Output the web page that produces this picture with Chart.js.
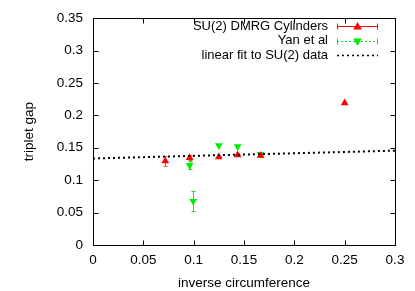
<!DOCTYPE html>
<html>
<head>
<meta charset="utf-8">
<script src="https://cdn.jsdelivr.net/npm/chart.js@4"></script>
<style>
  html, body { margin: 0; padding: 0; background: #fff; }
  #wrap { width: 415px; height: 291px; }
</style>
</head>
<body>
<div id="wrap"><canvas id="gapChart" width="415" height="291"></canvas></div>
<script>
// SU(2) DMRG cylinders
const suX = [0.0718, 0.096, 0.125, 0.1437, 0.1665, 0.25];
const suY = [0.1295, 0.1347, 0.1357, 0.139, 0.138, 0.219];
const suErr = [0.008, 0.004, 0.002, 0.002, 0.002, 0.0];

// Yan et al
const yanX = [0.096, 0.0995, 0.125, 0.1437, 0.1665];
const yanY = [0.123, 0.0676, 0.1536, 0.152, 0.140];
const yanErr = [0.006, 0.015, 0.0, 0.0, 0.003];

// linear fit to SU(2) data
const fitX = [0, 0.3];
const fitY = [0.1335, 0.1455];

const xTicks = [0, 0.05, 0.1, 0.15, 0.2, 0.25, 0.3];
const yTicks = [0, 0.05, 0.1, 0.15, 0.2, 0.25, 0.3, 0.35];

const legendItems = [
  { label: 'SU(2) DMRG Cylinders', color: '#ff0000', dash: [], caps: true, marker: 'up' },
  { label: 'Yan et al', color: '#00ee00', dash: [2, 2], caps: true, marker: 'down' },
  { label: 'linear fit to SU(2) data', color: '#000000', dash: [2, 3], caps: false, marker: null }
];

const font = "'Liberation Sans', Arial, sans-serif";

function points(xs, ys) {
  return xs.map((x, i) => ({ x: x, y: ys[i] }));
}

function drawTriangle(ctx, x, y, r, down) {
  const s = down ? -1 : 1;
  ctx.beginPath();
  ctx.moveTo(x, y - s * r);
  ctx.lineTo(x + r * 0.95, y + s * r * 0.65);
  ctx.lineTo(x - r * 0.95, y + s * r * 0.65);
  ctx.closePath();
  ctx.fill();
}

// error bars, box frame with inward ticks, and the legend
const frame = {
  id: 'frame',
  beforeDatasetsDraw(chart) {
    const ctx = chart.ctx;
    const xs = chart.scales.x, ys = chart.scales.y;
    const bars = [[suX, suY, suErr, '#ff5050'], [yanX, yanY, yanErr, '#22dd22']];
    ctx.save();
    ctx.lineWidth = 1;
    for (const [bx, by, be, col] of bars) {
      ctx.strokeStyle = col;
      bx.forEach((x, i) => {
        if (!be[i]) return;
        const px = Math.round(xs.getPixelForValue(x)) + 0.5;
        const y1 = Math.round(ys.getPixelForValue(by[i] + be[i])) + 0.5;
        const y2 = Math.round(ys.getPixelForValue(by[i] - be[i])) + 0.5;
        ctx.beginPath();
        ctx.moveTo(px, y1); ctx.lineTo(px, y2);
        ctx.moveTo(px - 2, y1); ctx.lineTo(px + 2, y1);
        ctx.moveTo(px - 2, y2); ctx.lineTo(px + 2, y2);
        ctx.stroke();
      });
    }
    ctx.restore();
  },
  afterDraw(chart) {
    const ctx = chart.ctx;
    const a = chart.chartArea;
    const xs = chart.scales.x, ys = chart.scales.y;
    ctx.save();
    ctx.strokeStyle = '#000';
    ctx.lineWidth = 1;
    const l = Math.round(a.left) + 0.5, r = Math.round(a.right) + 0.5;
    const t = Math.round(a.top) + 0.5, b = Math.round(a.bottom) + 0.5;
    ctx.strokeRect(l, t, r - l, b - t);
    ctx.beginPath();
    for (const v of xTicks) {
      const px = Math.round(xs.getPixelForValue(v)) + 0.5;
      ctx.moveTo(px, b); ctx.lineTo(px, b - 5);
      ctx.moveTo(px, t); ctx.lineTo(px, t + 5);
    }
    for (const v of yTicks) {
      const py = Math.round(ys.getPixelForValue(v)) + 0.5;
      ctx.moveTo(l, py); ctx.lineTo(l + 5, py);
      ctx.moveTo(r, py); ctx.lineTo(r - 5, py);
    }
    ctx.stroke();

    // legend
    ctx.font = '13px ' + font;
    ctx.textAlign = 'right';
    ctx.textBaseline = 'middle';
    legendItems.forEach((it, i) => {
      const y = 26 + i * 14.5;
      ctx.fillStyle = '#000';
      ctx.fillText(it.label, 328, y);
      const yy = Math.round(y) + 0.5;
      ctx.strokeStyle = it.color;
      ctx.lineWidth = it.marker ? 1 : 1.5;
      ctx.setLineDash(it.dash);
      ctx.beginPath();
      ctx.moveTo(337, yy); ctx.lineTo(378, yy);
      ctx.stroke();
      ctx.setLineDash([]);
      if (it.caps) {
        ctx.beginPath();
        ctx.moveTo(337.5, yy - 3); ctx.lineTo(337.5, yy + 3);
        ctx.moveTo(377.5, yy - 3); ctx.lineTo(377.5, yy + 3);
        ctx.stroke();
      }
      if (it.marker) {
        ctx.fillStyle = it.color;
        drawTriangle(ctx, 357.5, yy, 4.5, it.marker === 'down');
      }
    });
    ctx.restore();
  }
};

const data = {
  datasets: [
    {
      label: 'linear fit to SU(2) data',
      type: 'line',
      data: points(fitX, fitY),
      borderColor: '#000',
      borderWidth: 2,
      borderDash: [2, 3],
      pointRadius: 0,
      fill: false
    },
    {
      label: 'SU(2) DMRG Cylinders',
      data: points(suX, suY),
      pointStyle: 'triangle',
      pointRadius: 4.5,
      backgroundColor: '#ff0000',
      borderColor: '#ff0000',
      borderWidth: 0
    },
    {
      label: 'Yan et al',
      data: points(yanX, yanY),
      pointStyle: 'triangle',
      rotation: 180,
      pointRadius: 4.5,
      backgroundColor: '#00ee00',
      borderColor: '#00ee00',
      borderWidth: 0
    }
  ]
};

new Chart(document.getElementById('gapChart'), {
  type: 'scatter',
  data: data,
  options: {
    responsive: false,
    animation: false,
    devicePixelRatio: 1,
    layout: { padding: { left: 21, right: 20, top: 17, bottom: 0 } },
    plugins: {
      legend: { display: false },
      tooltip: { enabled: false }
    },
    scales: {
      x: {
        type: 'linear',
        min: 0,
        max: 0.3,
        afterFit: (s) => { s.height = 46; },
        afterBuildTicks: (s) => { s.ticks = xTicks.map(v => ({ value: v })); },
        grid: { display: false, drawTicks: false, tickLength: 0 },
        border: { display: false },
        ticks: { color: '#000', padding: 7, font: { family: font, size: 13.5 }, maxRotation: 0,
                 callback: (v) => String(v) },
        title: { display: true, text: 'inverse circumference', color: '#000',
                 font: { family: font, size: 13.5 }, padding: { top: 4, bottom: 0 } }
      },
      y: {
        type: 'linear',
        min: 0,
        max: 0.35,
        afterFit: (s) => { s.width = 72; },
        afterBuildTicks: (s) => { s.ticks = yTicks.map(v => ({ value: v })); },
        grid: { display: false, drawTicks: false, tickLength: 0 },
        border: { display: false },
        ticks: { color: '#000', padding: 10, font: { family: font, size: 13.5 },
                 callback: (v) => String(v) },
        title: { display: true, text: 'triplet gap', color: '#000',
                 font: { family: font, size: 13.5 }, padding: { top: 0, bottom: 0 } }
      }
    }
  },
  plugins: [frame]
});
</script>
</body>
</html>
